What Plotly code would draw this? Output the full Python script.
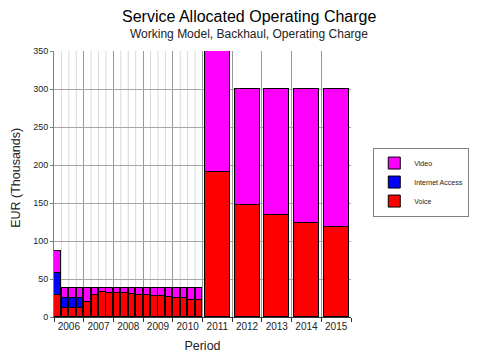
import plotly.graph_objects as go

# ---- data ----
quarter_years = [2006]*4 + [2007]*4 + [2008]*4 + [2009]*4 + [2010]*4
quarter_index = [1, 2, 3, 4] * 5
annual_years = [2011, 2012, 2013, 2014, 2015]
tick_labels = ["2006", "2007", "2008", "2009", "2010", "2011", "2012", "2013", "2014", "2015"]

voice_q = [29.5, 12.5, 12.5, 12.5, 19.5, 29.5, 33, 32, 32, 31, 30, 29, 29, 27.5, 27, 26, 24.5, 24.5, 23, 22.5]
internet_q = [29, 13, 13, 13, 0, 0, 0, 0, 0, 0, 0, 0, 0, 0, 0, 0, 0, 0, 0, 0]
video_q = [29, 13, 13, 13, 19, 9, 5.5, 6.5, 6.5, 7.5, 8.5, 9.5, 9.5, 11, 11.5, 12.5, 14, 14, 15.5, 16]

voice_y = [191, 147, 134, 124, 118]
internet_y = [0, 0, 0, 0, 0]
video_y = [159, 153, 166, 176, 182]

# ---- positions from periods ----
xq = [y + (q - 0.5) / 4 for y, q in zip(quarter_years, quarter_index)]
xy = [y + 0.5 for y in annual_years]
x_all = xq + xy
w_all = [0.22] * len(xq) + [0.84] * len(xy)

fig = go.Figure()
series = [
    ("Voice", voice_q + voice_y, "#ff0000"),
    ("Internet Access", internet_q + internet_y, "#0000ff"),
    ("Video", video_q + video_y, "#ff00ff"),
]
for name, vals, col in series:
    fig.add_trace(go.Bar(
        x=x_all, y=vals, width=w_all, name=name,
        marker=dict(color=col, line=dict(color="#000000", width=1)),
    ))

# quarter gridlines (light) within the quarterly section
shapes = []
for y, q in zip(quarter_years, quarter_index):
    if q > 1:
        xv = y + (q - 1) / 4
        shapes.append(dict(type="line", xref="x", yref="paper", x0=xv, x1=xv, y0=0, y1=1,
                           line=dict(color="#d9d9d9", width=1), layer="below"))

all_years = sorted(set(quarter_years)) + annual_years
fig.update_layout(
    width=482, height=346,
    margin=dict(l=46, r=139, t=43, b=37, autoexpand=False),
    paper_bgcolor="white", plot_bgcolor="white",
    barmode="stack", bargap=0,
    font=dict(family="Liberation Sans, Arial, sans-serif", color="#222222"),
    shapes=shapes,
    showlegend=True,
    legend=dict(traceorder="reversed", x=1.075, y=0.637, xanchor="left", yanchor="top",
                bordercolor="#808080", borderwidth=1, bgcolor="white",
                font=dict(size=7, color="#222222"), itemwidth=30,
                tracegroupgap=0, entrywidth=80),
    xaxis=dict(
        automargin=False,
        range=[2006, 2016],
        tickmode="array", tickvals=[y + 0.5 for y in all_years], ticktext=tick_labels,
        ticks="", showgrid=False, tickfont=dict(size=10, color="#222222"),
        showline=True, linecolor="#333333", linewidth=1,
        minor=dict(tick0=2006, dtick=1, ticks="outside", ticklen=4, tickcolor="#333333",
                   showgrid=True, gridcolor="#999999", gridwidth=1),
        title=dict(text="Period", font=dict(size=12.5, color="#222222"), standoff=10),
        zeroline=False,
    ),
    yaxis=dict(
        automargin=False,
        range=[0, 350], dtick=50, tick0=0,
        ticks="outside", ticklen=3, tickcolor="#808080",
        tickfont=dict(size=9, color="#222222"),
        showgrid=True, gridcolor="#a6a6a6", gridwidth=1,
        showline=True, linecolor="#808080", linewidth=1,
        zeroline=False,
    ),
    annotations=[
        dict(text="Service Allocated Operating Charge", xref="paper", yref="paper",
             x=0.657, y=1.128, xanchor="center", yanchor="middle", showarrow=False,
             font=dict(size=16, color="#000000")),
        dict(text="Working Model, Backhaul, Operating Charge", xref="paper", yref="paper",
             x=0.657, y=1.064, xanchor="center", yanchor="middle", showarrow=False,
             font=dict(size=12, color="#222222")),
        dict(text="EUR (Thousands)", xref="paper", yref="paper", textangle=-90,
             x=-0.128, y=0.523, xanchor="center", yanchor="middle", showarrow=False,
             font=dict(size=12.5, color="#222222")),
    ],
)

fig.write_html("out.html")
